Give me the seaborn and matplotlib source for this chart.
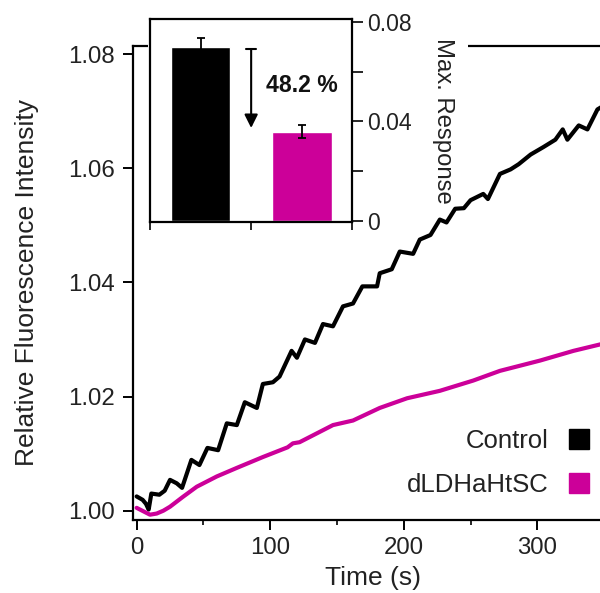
import numpy as np
import pandas as pd
import matplotlib
matplotlib.use("Agg")
import matplotlib.pyplot as plt
from matplotlib.lines import Line2D
from matplotlib.patches import Rectangle
import seaborn as sns

# ---------------- data ----------------
control_t = [0, 4.5, 7, 9, 11, 17, 21, 25, 30, 34, 41, 47, 53, 61, 67.5, 75, 81, 90,
             94.5, 102, 107, 116, 120, 126, 133.5, 139.5, 147, 154.5, 162, 169, 180,
             182, 191, 197, 207, 212, 220, 227, 232, 238.5, 245, 250, 259.5, 263, 272,
             280, 286, 295, 304.5, 313.5, 319, 322.5, 331, 337.5, 345, 350]
control_v = [1.0025, 1.0019, 1.0012, 1.0002, 1.0030, 1.0028, 1.0035, 1.0054, 1.0048,
             1.0040, 1.0089, 1.0080, 1.0110, 1.0106, 1.0153, 1.0150, 1.0190, 1.0180,
             1.0222, 1.0225, 1.0235, 1.0280, 1.0268, 1.0300, 1.0294, 1.0327, 1.0323,
             1.0358, 1.0363, 1.0393, 1.0393, 1.0416, 1.0423, 1.0454, 1.0450, 1.0475,
             1.0483, 1.0510, 1.0505, 1.0529, 1.0530, 1.0544, 1.0555, 1.0546, 1.0590,
             1.0598, 1.0607, 1.0624, 1.0637, 1.0650, 1.0668, 1.0650, 1.0675, 1.0668,
             1.0703, 1.0710]

mutant_t = [0, 5, 10, 15, 20, 25, 34.5, 45, 60, 75, 94.5, 113, 117, 122, 147, 162,
            182, 202.5, 227, 252, 272, 302, 327, 350]
mutant_v = [1.0005, 0.9999, 0.9993, 0.9995, 1.0000, 1.0007, 1.0024, 1.0042, 1.0060,
            1.0075, 1.0094, 1.0111, 1.0118, 1.0120, 1.0150, 1.0158, 1.0180, 1.0197,
            1.0210, 1.0228, 1.0245, 1.0263, 1.0280, 1.0293]

groups = ["Control", "dLDHaHtSC"]
max_response = [0.0698, 0.0358]
max_response_err = [0.0035, 0.0025]
reduction_label = "48.2 %"

x_ticks = [0, 100, 200, 300]
y_ticks = [1.00, 1.02, 1.04, 1.06, 1.08]
y_tick_labels = ["1.00", "1.02", "1.04", "1.06", "1.08"]
inset_ticks = [0, 0.02, 0.04, 0.06, 0.08]
inset_tick_labels = ["0", "", "0.04", "", "0.08"]

colors = {"Control": "#000000", "dLDHaHtSC": "#CC0099"}

# ---------------- style ----------------
sns.set_style("ticks")
plt.rcParams["font.family"] = ["Liberation Sans", "DejaVu Sans"]
plt.rcParams["axes.linewidth"] = 1.5

fig = plt.figure(figsize=(6.0, 5.93), dpi=100)

ax = fig.add_axes([133.3 / 600, 73 / 593, (612 - 133.3) / 600, 474.5 / 593])
ax.set_zorder(0)

df = pd.concat([
    pd.DataFrame({"Time": control_t, "F": control_v, "group": "Control"}),
    pd.DataFrame({"Time": mutant_t, "F": mutant_v, "group": "dLDHaHtSC"}),
], ignore_index=True)

sns.lineplot(data=df, x="Time", y="F", hue="group", palette=colors,
             estimator=None, sort=False, linewidth=3.0, legend=False, ax=ax)
for ln in ax.get_lines():
    ln.set_solid_joinstyle("round")
    ln.set_solid_capstyle("round")

ax.set_xlim(-2.5, 355.9)
ax.set_ylim(0.99837, 1.0815)
ax.set_xticks(x_ticks)
ax.set_xticks([50, 150, 250, 350], minor=True)
ax.set_yticks(y_ticks)
ax.set_yticklabels(y_tick_labels)
ax.tick_params(axis="both", which="major", direction="out", length=7.5, width=1.4,
               labelsize=17.3, pad=5, color="black", labelcolor="#222222")
ax.tick_params(axis="y", which="major", pad=6)
ax.tick_params(axis="x", which="minor", direction="out", length=3.8, width=1.4)
ax.spines["right"].set_visible(False)
for s in ["left", "bottom", "top"]:
    ax.spines[s].set_color("black")
    ax.spines[s].set_linewidth(1.6)
ax.set_xlabel("Time (s)", fontsize=19, labelpad=5, color="#222222")
ax.set_ylabel("Relative Fluorescence Intensity", fontsize=19, labelpad=21, color="#222222")

handles = [Line2D([], [], marker="s", linestyle="none", color=colors[g],
                  markersize=14.4) for g in groups]
leg = ax.legend(handles, groups, loc="center right", markerfirst=False, frameon=False,
                bbox_to_anchor=(592 / 600, (593 - 463) / 593),
                bbox_transform=fig.transFigure, borderaxespad=0, borderpad=0,
                handlelength=1.0, handletextpad=0.7, labelspacing=0.75,
                fontsize=18.5)
for t in leg.get_texts():
    t.set_color("#222222")

# white area behind inset (hides main top frame)
cover = Rectangle((148 / 600, (593 - 56) / 593), (468 - 148) / 600, 56 / 593,
                  transform=fig.transFigure, facecolor="white", edgecolor="none",
                  zorder=1)
fig.add_artist(cover)

# ---------------- inset ----------------
axin = fig.add_axes([150 / 600, (593 - 221.7) / 593, 202.3 / 600, 202.4 / 593])
axin.set_zorder(2)
bdf = pd.DataFrame({"group": groups, "value": max_response})
sns.barplot(data=bdf, x="group", y="value", hue="group", palette=colors,
            errorbar=None, width=0.59, saturation=1, legend=False, ax=axin)
axin.errorbar(range(len(groups)), max_response, yerr=max_response_err, fmt="none",
              ecolor="black", elinewidth=1.3, capsize=3.0, capthick=1.3)

axin.set_xlim(-0.5, 1.5)
axin.set_ylim(-0.0004, 0.081)
axin.set_xticks([-0.5, 0.5, 1.5])
axin.set_xticklabels([])
axin.set_xlabel("")
axin.yaxis.tick_right()
axin.yaxis.set_label_position("right")
axin.set_yticks(inset_ticks)
axin.set_yticklabels(inset_tick_labels)
axin.tick_params(axis="y", direction="out", length=8, width=1.4, labelsize=16.6,
                 pad=3, labelcolor="#222222", left=False)
axin.tick_params(axis="x", direction="out", length=6, width=1.4)
for s in axin.spines.values():
    s.set_visible(True)
    s.set_color("black")
    s.set_linewidth(1.6)
axin.set_ylabel("Max. Response", rotation=270, va="bottom", fontsize=17.2,
                labelpad=14, color="#222222")

axin.annotate("", xy=(0.5, 0.0373), xytext=(0.5, 0.0690),
              arrowprops=dict(arrowstyle="-|>", color="black", lw=1.5,
                              mutation_scale=20, shrinkA=0, shrinkB=0))
axin.plot([0.45, 0.55], [0.0690, 0.0690], color="black", lw=1.5)
axin.text(0.65, 0.0545, reduction_label, fontsize=16.6, fontweight="bold",
          ha="left", va="center", color="#111111")

fig.savefig("out.png", dpi=100)
